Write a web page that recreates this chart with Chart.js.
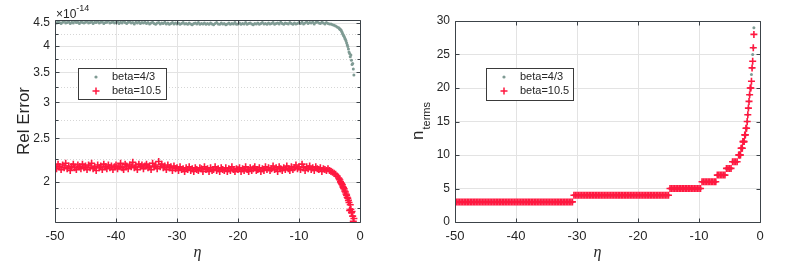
<!DOCTYPE html>
<html><head><meta charset="utf-8">
<script src="https://cdn.jsdelivr.net/npm/chart.js@4.4.0/dist/chart.umd.min.js"></script>
<style>
html,body{margin:0;padding:0;background:#fff;}
#wrap{position:relative;width:789px;height:267px;overflow:hidden;}
.box{position:absolute;top:0;height:267px;}
</style></head><body>
<div id="wrap">
 <div class="box" style="left:0;width:395px"><canvas id="errChart" width="395" height="267"></canvas></div>
 <div class="box" style="left:395px;width:394px"><canvas id="termsChart" width="394" height="267"></canvas></div>
</div>
<script>
// sample points in eta (shared by both panels)
const eta=[
 -50,-49.75,-49.5,-49.25,-49,-48.75,-48.5,-48.25,-48,-47.75,-47.5,-47.25,-47,-46.75,-46.5,-46.25,-46,-45.75,-45.5,-45.25,
 -45,-44.75,-44.5,-44.25,-44,-43.75,-43.5,-43.25,-43,-42.75,-42.5,-42.25,-42,-41.75,-41.5,-41.25,-41,-40.75,-40.5,-40.25,
 -40,-39.75,-39.5,-39.25,-39,-38.75,-38.5,-38.25,-38,-37.75,-37.5,-37.25,-37,-36.75,-36.5,-36.25,-36,-35.75,-35.5,-35.25,
 -35,-34.75,-34.5,-34.25,-34,-33.75,-33.5,-33.25,-33,-32.75,-32.5,-32.25,-32,-31.75,-31.5,-31.25,-31,-30.75,-30.5,-30.25,
 -30,-29.75,-29.5,-29.25,-29,-28.75,-28.5,-28.25,-28,-27.75,-27.5,-27.25,-27,-26.75,-26.5,-26.25,-26,-25.75,-25.5,-25.25,
 -25,-24.75,-24.5,-24.25,-24,-23.75,-23.5,-23.25,-23,-22.75,-22.5,-22.25,-22,-21.75,-21.5,-21.25,-21,-20.75,-20.5,-20.25,
 -20,-19.75,-19.5,-19.25,-19,-18.75,-18.5,-18.25,-18,-17.75,-17.5,-17.25,-17,-16.75,-16.5,-16.25,-16,-15.75,-15.5,-15.25,
 -15,-14.75,-14.5,-14.25,-14,-13.75,-13.5,-13.25,-13,-12.75,-12.5,-12.25,-12,-11.75,-11.5,-11.25,-11,-10.75,-10.5,-10.25,
 -10,-9.75,-9.5,-9.25,-9,-8.75,-8.5,-8.25,-8,-7.75,-7.5,-7.25,-7,-6.75,-6.5,-6.25,-6,-5.75,-5.5,-5.25,
 -5,-4.75,-4.5,-4.25,-4,-3.75,-3.5,
 -3.4,-3.3,-3.2,-3.1,-3,-2.9,-2.8,-2.7,-2.6,-2.5,-2.4,-2.3,-2.2,-2.1,-2,-1.9,-1.8,-1.7,-1.6,-1.5,-1.4,-1.3,-1.2,-1.1,-1
];

// relative error, in units of 1e-14
const err43=[
 4.52,4.50,4.53,4.51,4.49,4.52,4.54,4.50,4.51,4.53,4.49,4.52,4.50,4.54,4.51,4.52,4.49,4.53,4.51,4.50,
 4.52,4.54,4.50,4.51,4.53,4.49,4.52,4.51,4.54,4.50,4.52,4.53,4.49,4.51,4.52,4.55,4.50,4.51,4.53,4.50,
 4.51,4.53,4.49,4.52,4.50,4.54,4.51,4.49,4.52,4.53,4.50,4.51,4.48,4.52,4.50,4.53,4.49,4.51,4.50,4.52,
 4.49,4.51,4.48,4.50,4.52,4.49,4.47,4.50,4.51,4.48,4.50,4.49,4.52,4.48,4.50,4.47,4.49,4.51,4.48,4.50,
 4.48,4.50,4.47,4.49,4.51,4.48,4.49,4.47,4.50,4.48,4.46,4.49,4.50,4.48,4.51,4.47,4.49,4.48,4.50,4.47,
 4.49,4.47,4.50,4.48,4.46,4.49,4.51,4.48,4.47,4.50,4.48,4.49,4.46,4.48,4.50,4.47,4.49,4.48,4.51,4.47,
 4.48,4.50,4.47,4.49,4.48,4.51,4.47,4.49,4.50,4.48,4.46,4.49,4.48,4.50,4.47,4.49,4.51,4.48,4.49,4.47,
 4.50,4.48,4.49,4.51,4.47,4.49,4.50,4.48,4.52,4.49,4.47,4.50,4.49,4.48,4.51,4.49,4.47,4.50,4.48,4.49,
 4.51,4.49,4.52,4.48,4.50,4.53,4.49,4.51,4.50,4.52,4.48,4.51,4.53,4.50,4.49,4.52,4.50,4.48,4.51,4.49,
 4.48,4.48,4.46,4.45,4.43,4.41,4.39,
 4.38,4.36,4.35,4.34,4.31,4.28,4.25,4.22,4.20,4.17,4.14,4.11,4.07,4.03,3.99,3.94,3.88,3.85,3.79,3.82,3.72,3.64,3.66,3.56,3.45
];
const err105=[
 2.17,2.14,2.19,2.16,2.13,2.18,2.15,2.20,2.14,2.17,2.12,2.16,2.19,2.15,2.13,2.18,2.16,2.14,2.19,2.15,
 2.17,2.13,2.18,2.15,2.20,2.14,2.16,2.12,2.18,2.15,2.17,2.13,2.19,2.16,2.14,2.18,2.15,2.17,2.13,2.16,
 2.18,2.14,2.16,2.20,2.15,2.13,2.19,2.17,2.14,2.18,2.16,2.21,2.15,2.17,2.13,2.19,2.16,2.18,2.14,2.17,
 2.19,2.15,2.17,2.13,2.20,2.16,2.18,2.14,2.22,2.16,2.19,2.15,2.17,2.13,2.18,2.15,2.16,2.12,2.17,2.14,
 2.15,2.12,2.16,2.13,2.14,2.11,2.15,2.13,2.16,2.12,2.14,2.11,2.15,2.13,2.12,2.15,2.14,2.11,2.16,2.13,
 2.14,2.11,2.15,2.12,2.13,2.16,2.12,2.14,2.11,2.15,2.13,2.12,2.15,2.11,2.14,2.12,2.16,2.13,2.11,2.14,
 2.13,2.15,2.11,2.14,2.12,2.16,2.13,2.11,2.15,2.12,2.14,2.16,2.12,2.13,2.15,2.11,2.14,2.12,2.16,2.13,
 2.15,2.12,2.14,2.17,2.13,2.15,2.11,2.16,2.14,2.12,2.15,2.13,2.17,2.14,2.12,2.16,2.13,2.15,2.18,2.14,
 2.16,2.13,2.19,2.15,2.12,2.16,2.14,2.17,2.13,2.15,2.12,2.16,2.14,2.13,2.15,2.11,2.14,2.13,2.12,2.14,
 2.12,2.11,2.10,2.09,2.08,2.06,2.04,
 2.03,2.02,2.00,1.99,1.98,1.97,1.95,1.94,1.93,1.91,1.90,1.88,1.87,1.85,1.84,1.82,1.80,1.73,1.78,1.74,1.71,1.72,1.68,1.635,1.66
];

// number of terms
const terms43=[
 3,3,3,3,3,3,3,3,3,3,3,3,3,3,3,3,3,3,3,3,
 3,3,3,3,3,3,3,3,3,3,3,3,3,3,3,3,3,3,3,3,
 3,3,3,3,3,3,3,3,3,3,3,3,3,3,3,3,3,3,3,3,
 3,3,3,3,3,3,3,3,3,3,3,3,3,3,3,3,3,3,4,4,
 4,4,4,4,4,4,4,4,4,4,4,4,4,4,4,4,4,4,4,4,
 4,4,4,4,4,4,4,4,4,4,4,4,4,4,4,4,4,4,4,4,
 4,4,4,4,4,4,4,4,4,4,4,4,4,4,4,4,4,4,4,4,
 4,5,5,5,5,5,5,5,5,5,5,5,5,5,5,5,5,5,5,5,
 5,5,6,6,6,6,6,6,6,6,6,6,7,7,7,7,7,7,8,8,
 8,8,9,9,9,9,10,
 10,10,10,11,11,11,12,12,12,13,13,14,14,15,16,17,18,19,20,20,22,23,25,26,29
];
const terms105=[
 3,3,3,3,3,3,3,3,3,3,3,3,3,3,3,3,3,3,3,3,
 3,3,3,3,3,3,3,3,3,3,3,3,3,3,3,3,3,3,3,3,
 3,3,3,3,3,3,3,3,3,3,3,3,3,3,3,3,3,3,3,3,
 3,3,3,3,3,3,3,3,3,3,3,3,3,3,3,3,3,3,4,4,
 4,4,4,4,4,4,4,4,4,4,4,4,4,4,4,4,4,4,4,4,
 4,4,4,4,4,4,4,4,4,4,4,4,4,4,4,4,4,4,4,4,
 4,4,4,4,4,4,4,4,4,4,4,4,4,4,4,4,4,4,4,4,
 4,5,5,5,5,5,5,5,5,5,5,5,5,5,5,5,5,5,5,5,
 5,5,6,6,6,6,6,6,6,6,6,6,7,7,7,7,7,7,8,8,
 8,8,9,9,9,9,10,
 10,10,10,11,11,11,12,12,12,13,13,14,14,15,16,17,18,19,20,20,21,23,24,26,28
];

const seriesNames=["beta=4/3","beta=10.5"];
const etaTicks=[-50,-40,-30,-20,-10,0];
const errTicks=[2,2.5,3,3.5,4,4.5];
const errMinor=[1.75,2.25,2.75,3.25,3.75,4.25];
const termTicks=[0,5,10,15,20,25,30];

const GRAY="#7f9b94",RED="#ff1840",INK="#262626",FRAME="#3c4349",GRID="#e3e3e3";
const FONT='"Liberation Sans", Arial, sans-serif';

const pts=ys=>eta.map((x,i)=>({x,y:ys[i]}));

function datasets(a,b){
 return [
  {label:seriesNames[0],data:pts(a),pointStyle:"circle",pointRadius:1.5,pointBackgroundColor:GRAY,pointBorderWidth:0,showLine:false,order:2},
  {label:seriesNames[1],data:pts(b),pointStyle:"cross",pointRadius:3.5,pointBorderColor:RED,pointBorderWidth:1.6,showLine:false,order:1}
 ];
}

// box, inward ticks, minor dotted grid, legend and axis labels
function decor(cfg){
 return {
  id:"decor",
  beforeDatasetsDraw(c){
   const {ctx,chartArea:ca,scales:{y}}=c;
   ctx.save();ctx.lineWidth=1;
   if(cfg.yValues){
    ctx.strokeStyle=GRID;
    cfg.yValues.forEach(v=>{
     const py=Math.round(y.getPixelForValue(v))+.5;
     ctx.beginPath();ctx.moveTo(ca.left,py);ctx.lineTo(ca.right,py);ctx.stroke();
    });
   }
   if(cfg.minor){
    ctx.strokeStyle="#d6d6d6";ctx.setLineDash([1,2]);
    cfg.minor.forEach(v=>{
     const py=Math.round(y.getPixelForValue(v))+.5;
     ctx.beginPath();ctx.moveTo(ca.left,py);ctx.lineTo(ca.right,py);ctx.stroke();
    });
   }
   ctx.restore();
  },
  afterDraw(c){
   const {ctx,chartArea:ca,scales:{x,y}}=c;
   const L=Math.round(ca.left)+.5,R=Math.round(ca.right)+.5,T=Math.round(ca.top)+.5,B=Math.round(ca.bottom)+.5;
   const yv=cfg.yValues||y.ticks.map(t=>t.value);
   ctx.save();
   ctx.strokeStyle=FRAME;ctx.lineWidth=1;
   ctx.beginPath();ctx.rect(L,T,R-L,B-T);
   x.ticks.forEach(t=>{const p=Math.round(x.getPixelForValue(t.value))+.5;ctx.moveTo(p,B);ctx.lineTo(p,B-4);ctx.moveTo(p,T);ctx.lineTo(p,T+4);});
   yv.forEach(v=>{const p=Math.round(y.getPixelForValue(v))+.5;ctx.moveTo(L,p);ctx.lineTo(L+4,p);ctx.moveTo(R,p);ctx.lineTo(R-4,p);});
   (cfg.minor||[]).forEach(v=>{const p=Math.round(y.getPixelForValue(v))+.5;ctx.moveTo(L,p);ctx.lineTo(L+3,p);ctx.moveTo(R,p);ctx.lineTo(R-3,p);});
   ctx.stroke();

   // legend
   const g=cfg.legend;
   ctx.fillStyle="#fff";ctx.fillRect(g.x,g.y,g.w,g.h);
   ctx.strokeStyle="#3a3a3a";ctx.strokeRect(g.x+.5,g.y+.5,g.w,g.h);
   ctx.fillStyle=GRAY;ctx.beginPath();ctx.arc(g.x+18,g.y+9,1.6,0,Math.PI*2);ctx.fill();
   ctx.strokeStyle=RED;ctx.lineWidth=1.5;ctx.beginPath();
   ctx.moveTo(g.x+14.5,g.y+23);ctx.lineTo(g.x+21.5,g.y+23);ctx.moveTo(g.x+18,g.y+19.5);ctx.lineTo(g.x+18,g.y+26.5);ctx.stroke();
   ctx.fillStyle=INK;ctx.font="11px "+FONT;ctx.textBaseline="middle";ctx.textAlign="left";
   ctx.fillText(seriesNames[0],g.x+34,g.y+9);
   ctx.fillText(seriesNames[1],g.x+34,g.y+23);

   // x label
   ctx.textBaseline="alphabetic";ctx.textAlign="center";
   ctx.font='italic 16px "Liberation Serif", "DejaVu Serif", serif';
   ctx.fillText("η",(ca.left+ca.right)/2-10,257);

   // y label
   const cy=(ca.top+ca.bottom)/2;
   ctx.save();
   ctx.translate(cfg.ylabelX,cy);ctx.rotate(-Math.PI/2);
   if(cfg.ylabel){
    ctx.font="17px "+FONT;ctx.fillText(cfg.ylabel,0,0);
   }else{
    ctx.font="17px "+FONT;const w1=ctx.measureText("n").width;
    ctx.font="11px "+FONT;const w2=ctx.measureText("terms").width;
    const s=-(w1+w2)/2;
    ctx.textAlign="left";
    ctx.font="17px "+FONT;ctx.fillText("n",s,0);
    ctx.font="11px "+FONT;ctx.fillText("terms",s+w1+1,7);
   }
   ctx.restore();

   // exponent
   if(cfg.exponent){
    ctx.textAlign="left";ctx.font="12px "+FONT;
    ctx.fillText("×10",ca.left+1,18);
    const w=ctx.measureText("×10").width;
    ctx.font="9px "+FONT;ctx.fillText("-14",ca.left+1+w,11);
   }

   // log axis tick labels, positioned by the scale, drawn last
   if(cfg.yValues){
    ctx.fillStyle=INK;ctx.font="12px "+FONT;ctx.textAlign="right";ctx.textBaseline="middle";
    cfg.yValues.forEach(v=>ctx.fillText(String(v),ca.left-5,y.getPixelForValue(v)));
   }
   ctx.restore();
  }
 };
}

const xAxis={
 type:"linear",min:-50,max:0,bounds:"data",
 afterBuildTicks:s=>{s.ticks=etaTicks.map(v=>({value:v}));},
 afterFit:s=>{s.height=45;},
 grid:{color:GRID,drawTicks:false},border:{display:false},
 ticks:{color:INK,font:{family:FONT,size:13},padding:7,maxRotation:0,autoSkip:false,source:"data"}
};

new Chart(document.getElementById("errChart"),{
 type:"scatter",
 data:{datasets:datasets(err43,err105)},
 options:{
  responsive:false,animation:false,
  layout:{padding:{left:0,right:35,top:20,bottom:0}},
  plugins:{legend:{display:false},tooltip:{enabled:false}},
  scales:{
   x:{...xAxis},
   y:{type:"logarithmic",min:1.63,max:4.57,bounds:"data",
    afterBuildTicks:s=>{s.ticks=errTicks.map(v=>({value:v}));},
    afterFit:s=>{s.width=55;},
    grid:{display:false},border:{display:false},
    ticks:{display:false}}
  }
 },
 plugins:[decor({yValues:errTicks,minor:errMinor,legend:{x:78,y:68,w:88,h:31},ylabel:"Rel Error",ylabelX:29,exponent:true})]
});

new Chart(document.getElementById("termsChart"),{
 type:"scatter",
 data:{datasets:datasets(terms43,terms105)},
 options:{
  responsive:false,animation:false,
  layout:{padding:{left:0,right:29,top:21,bottom:0}},
  plugins:{legend:{display:false},tooltip:{enabled:false}},
  scales:{
   x:{...xAxis},
   y:{type:"linear",min:0,max:30,bounds:"data",
    afterBuildTicks:s=>{s.ticks=termTicks.map(v=>({value:v}));},
    afterFit:s=>{s.width=60;},
    grid:{color:GRID,drawTicks:false},border:{display:false},
    ticks:{color:INK,font:{family:FONT,size:12},padding:5,autoSkip:false,source:"data"}}
  }
 },
 plugins:[decor({legend:{x:91,y:68,w:87,h:32},ylabelX:28})]
});
</script>
</body></html>
